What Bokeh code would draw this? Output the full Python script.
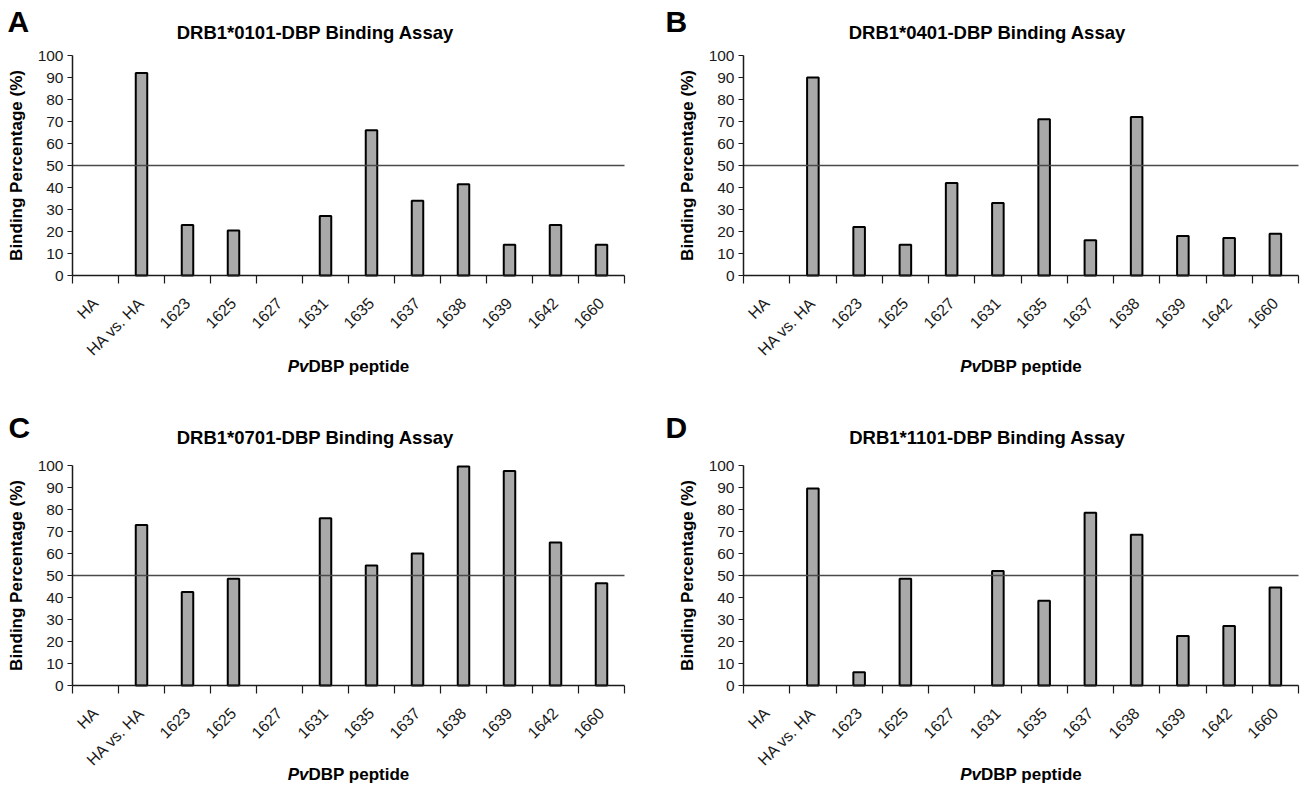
import math
import numpy as np
from bokeh.plotting import figure
from bokeh.models import Range1d, FixedTicker, Label
from bokeh.layouts import column, row
from bokeh.embed import file_html
from bokeh.resources import INLINE

# ---------------- data ----------------
categories = ["HA", "HA vs. HA", "1623", "1625", "1627", "1631",
              "1635", "1637", "1638", "1639", "1642", "1660"]
drb1_0101 = [None, 92, 23, 20.5, None, 27, 66, 34, 41.5, 14, 23, 14]
drb1_0401 = [None, 90, 22, 14, 42, 33, 71, 16, 72, 18, 17, 19]
drb1_0701 = [None, 73, 42.5, 48.5, None, 76, 54.5, 60, 99.5, 97.5, 65, 46.5]
drb1_1101 = [None, 89.5, 6, 48.5, None, 52, 38.5, 78.5, 68.5, 22.5, 27, 44.5]
panel_letters = ["A", "B", "C", "D"]
panel_titles = ["DRB1*0101-DBP Binding Assay", "DRB1*0401-DBP Binding Assay",
                "DRB1*0701-DBP Binding Assay", "DRB1*1101-DBP Binding Assay"]
y_ticks = [0, 10, 20, 30, 40, 50, 60, 70, 80, 90, 100]
y_max = 100
threshold = 50
x_label_italic = "Pv"
x_label_rest = "DBP peptide"
y_label = "Binding Percentage (%)"

FONT = "Liberation Sans"
BAR_FILL = "#a9a9a9"
INK = "#1a1a1a"


def make_panel(letter, title, vals, canvas, origin, letter_px, title_px, xlabel_py):
    """canvas = (left, top, width, height) in page px;
    origin = (x of first category edge, x of last category edge, y of 0, y of 100) in page px."""
    n = len(categories)
    cx, cy, w, h = canvas
    ox0, ox1, oy0, oy100 = origin
    pxx = (ox1 - ox0) / n
    pxy = (oy0 - oy100) / y_max

    def dx(px):
        return (px - ox0) / pxx

    def dy(py):
        return (oy0 - py) / pxy

    p = figure(width=w, height=h,
               x_range=Range1d(dx(cx), dx(cx + w)), y_range=Range1d(dy(cy + h), dy(cy)),
               output_backend="svg", toolbar_location=None, tools="", title=None,
               min_border=0, min_border_left=0, min_border_right=0,
               min_border_top=0, min_border_bottom=0)
    p.outline_line_color = None
    p.xgrid.visible = False
    p.ygrid.visible = False
    p.background_fill_color = "white"
    p.border_fill_color = "white"

    centers = [i + 0.5 for i in range(n)]
    bounds = list(range(n + 1))

    # bars
    tops = np.array([np.nan if v is None else v for v in vals], dtype=float)
    p.vbar(x=centers, top=tops, bottom=0, width=0.25,
           fill_color=BAR_FILL, line_color="black", line_width=2)

    # threshold line across the category span
    p.line(x=[0, n], y=[threshold, threshold], line_color="#4a4a4a", line_width=1.5)

    # x axis, drawn at y = 0
    xa = p.xaxis[0]
    xa.fixed_location = 0
    xa.bounds = (0, n)
    xa.ticker = FixedTicker(ticks=centers, minor_ticks=bounds)
    xa.major_label_overrides = {c: cat for c, cat in zip(centers, categories)}
    xa.major_tick_out = 0
    xa.major_tick_in = 0
    xa.minor_tick_out = 8
    xa.minor_tick_in = 0
    xa.minor_tick_line_color = INK
    xa.minor_tick_line_width = 1.2
    xa.axis_line_color = INK
    xa.axis_line_width = 1.5
    xa.major_label_orientation = math.pi / 4
    xa.major_label_text_font = FONT
    xa.major_label_text_font_size = "16px"
    xa.major_label_text_color = INK
    xa.major_label_standoff = 17

    # y axis, drawn at x = 0
    ya = p.yaxis[0]
    ya.fixed_location = 0
    ya.bounds = (0, y_max)
    ya.ticker = FixedTicker(ticks=y_ticks)
    ya.major_tick_out = 5
    ya.major_tick_in = 0
    ya.minor_tick_out = 0
    ya.minor_tick_in = 0
    ya.major_tick_line_color = INK
    ya.axis_line_color = INK
    ya.axis_line_width = 1.5
    ya.major_label_text_font = FONT
    ya.major_label_text_font_size = "15.5px"
    ya.major_label_text_color = INK
    ya.major_label_standoff = 4
    ya.axis_label = y_label
    ya.axis_label_text_font = FONT
    ya.axis_label_text_font_size = "17px"
    ya.axis_label_text_font_style = "bold"
    ya.axis_label_text_color = "black"
    ya.axis_label_standoff = 9

    # panel letter
    p.add_layout(Label(x=dx(letter_px[0]), y=dy(letter_px[1]), text=letter,
                       text_font=FONT, text_font_size="30px", text_font_style="bold",
                       text_color="black", text_align="left", text_baseline="middle"))
    # title
    p.add_layout(Label(x=dx(title_px[0]), y=dy(title_px[1]), text=title,
                       text_font=FONT, text_font_size="18.5px", text_font_style="bold",
                       text_color="black", text_align="center", text_baseline="middle"))
    # x axis title: italic "Pv" + bold "DBP peptide"
    jx = dx((ox0 + ox1) / 2 - 40)
    jy = dy(xlabel_py)
    p.add_layout(Label(x=jx, y=jy, text=x_label_italic, text_font=FONT,
                       text_font_size="17px", text_font_style="bold italic",
                       text_color="black", text_align="right", text_baseline="middle"))
    p.add_layout(Label(x=jx, y=jy, text=x_label_rest, text_font=FONT,
                       text_font_size="17px", text_font_style="bold",
                       text_color="black", text_align="left", text_baseline="middle"))
    return p


series = [drb1_0101, drb1_0401, drb1_0701, drb1_1101]
pa = make_panel(panel_letters[0], panel_titles[0], series[0],
                (0, 0, 650, 410), (72, 624, 275, 55), (7, 21), (315, 32), 366)
pb = make_panel(panel_letters[1], panel_titles[1], series[1],
                (650, 0, 650, 410), (743, 1298, 275, 55), (665, 21), (987, 32), 366)
pc = make_panel(panel_letters[2], panel_titles[2], series[2],
                (0, 410, 650, 375), (72, 624, 685, 465), (8, 427), (315, 437), 774)
pd = make_panel(panel_letters[3], panel_titles[3], series[3],
                (650, 410, 650, 375), (743, 1298, 685, 465), (665, 427), (987, 437), 774)

layout = column(row(pa, pb), row(pc, pd))
open("out.html", "w").write(file_html(layout, INLINE))
